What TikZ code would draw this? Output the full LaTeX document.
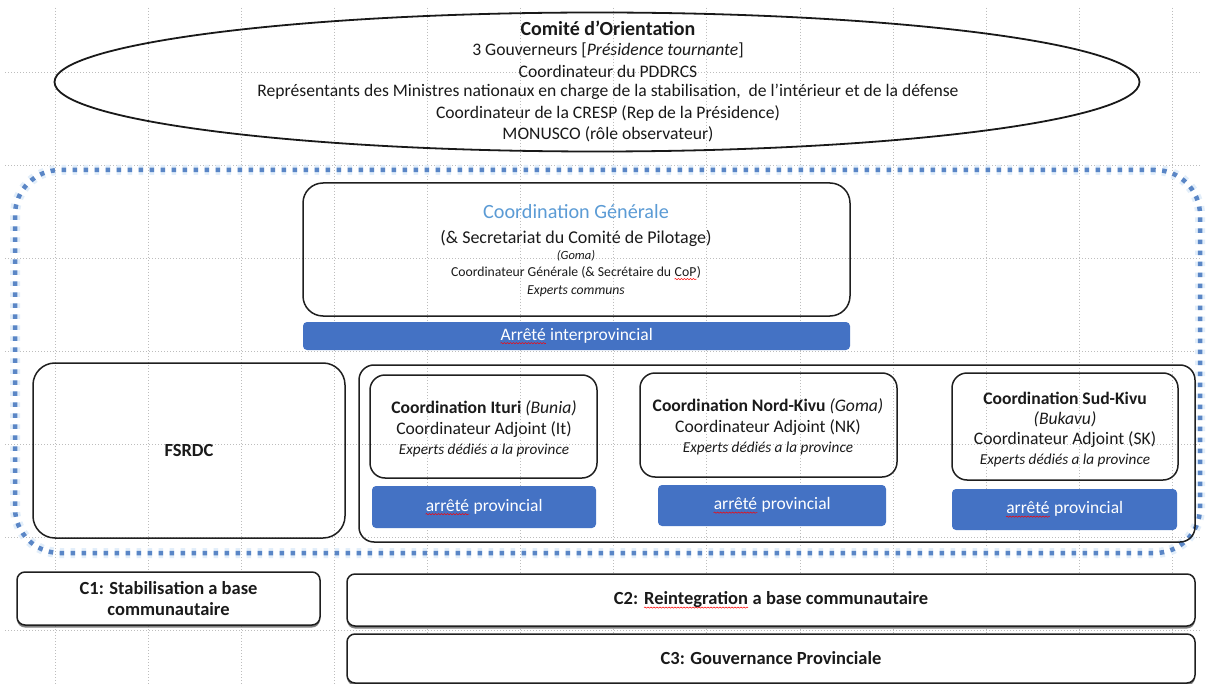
\documentclass[tikz,border=0pt]{standalone}
\usepackage{fontspec}
\setmainfont{Carlito}
\usetikzlibrary{shapes.geometric,fit,shadows,decorations.pathmorphing}
\definecolor{accblue}{HTML}{4472C4}
\definecolor{titleblue}{HTML}{5B9BD5}
\definecolor{dotblue}{HTML}{5A86C6}
\definecolor{glowblue}{HTML}{E2EEFA}
\definecolor{gridgray}{HTML}{BDBDBD}
\definecolor{ink}{HTML}{1A1A1A}
\newcommand\redwave[1]{\tikz[baseline=(rw.base)]{\node[inner sep=0pt] (rw) {#1}; \draw[red, line width=0.5pt, decorate, decoration={snake, amplitude=0.6pt, segment length=3pt}] ([yshift=-3pt]rw.base west) -- ([yshift=-3pt]rw.base east);}}
\newcommand\fsz[2]{\fontsize{#1}{#2}\selectfont}
\tikzset{
  gridline/.style={draw=gridgray, line width=0.6pt, dash pattern=on 1pt off 2pt},
  rbox/.style={draw=black!88, line width=1.5pt, rounded corners=#1, inner sep=0pt},
  rbox/.default=15pt,
  bluebar/.style={fill=accblue, draw=none, rounded corners=4pt, inner sep=0pt},
  shbox/.style={draw=black!88, line width=1.5pt, rounded corners=8pt, inner sep=0pt, fill=white,
     drop shadow={shadow xshift=0pt, shadow yshift=-2.5pt, opacity=0.7, fill=black!70}},
  txt/.style={inner sep=0pt, text=ink, font=\fsz{17.6}{20}},
  btxt/.style={inner sep=0pt, text=ink, font=\fsz{20}{22}\bfseries},
  ptxt/.style={inner sep=0pt, text=ink, font=\fsz{17.6}{20}},
  stxt/.style={inner sep=0pt, text=ink, font=\fsz{15.2}{17}\itshape},
  wtxt/.style={inner sep=0pt, text=white, font=\fsz{17.5}{20}},
}
\begin{document}
\begin{tikzpicture}[x=1pt,y=-1pt]
\useasboundingbox (0,0) rectangle (1206,684);
\fill[white] (0,0) rectangle (1206,684);
% background grid
\foreach \gx in {0,...,12} \draw[gridline] ({55+93.1*\gx},8) -- ({55+93.1*\gx},684);
\foreach \gy in {0,...,6} \draw[gridline] (5,{72+93*\gy}) -- (1200,{72+93*\gy});

% Comite d'Orientation
\node[ellipse, draw=black!90, line width=1.8pt, minimum width=1085pt, minimum height=139pt, inner sep=0pt] (comite) at (597,82) {};
\node[btxt] (co1) at (608,28) {Comité d’Orientation};
\node[txt] (co2) at (608,50) {3 Gouverneurs [\textit{Présidence tournante}]};
\node[txt] (co3) at (608,71) {Coordinateur du PDDRCS};
\node[txt] (co4) at (608,92) {Représentants des Ministres nationaux en charge de la stabilisation,\ \ de l’intérieur et de la défense};
\node[txt] (co5) at (608,113) {Coordinateur de la CRESP (Rep de la Présidence)};
\node[txt] (co6) at (608,134) {MONUSCO (rôle observateur)};

% blue dotted frame
\node[fit={(15,170) (1200,553)}, inner sep=0pt, rounded corners=45pt,
      preaction={draw=glowblue, line width=10pt},
      draw=dotblue, line width=4.5pt, dash pattern=on 4.5pt off 6.5pt] (frame) {};

% Coordination generale
\node[fit={(303,183) (850,316)}, rbox=20pt] (cg) {};
\node[inner sep=0pt, font=\fsz{20.2}{22}, text=titleblue] (cg1) at (576,212) {Coordination Générale};
\node[txt, font=\fsz{18}{20}] (cg2) at (576,238) {(\& Secretariat du Comité de Pilotage)};
\node[stxt, font=\fsz{12.5}{14}\itshape] (cg3) at (576,256) {(Goma)};
\node[txt, font=\fsz{13.7}{15}] (cg4) at (576,273) {Coordinateur Générale (\& Secrétaire du \redwave{CoP})};
\node[stxt, font=\fsz{13.7}{15}\itshape] (cg5) at (576,291) {Experts communs};
\node[fit={(303,322) (850,350)}, bluebar] (cgbar) {};
\node[wtxt] (cgbart) at (cgbar.center) {\redwave{Arrêté} interprovincial};

% FSRDC
\node[fit={(33,363) (345,538)}, rbox=22pt] (fsrdc) {};
\node[btxt, font=\fsz{18.5}{20}\bfseries] (fsrdct) at (fsrdc.center) {FSRDC};

% provinces container
\node[fit={(359,365) (1195,542)}, rbox=15pt] (prov) {};

% Ituri
\node[fit={(370,375) (597,478)}, rbox=15pt] (ituri) {};
\node[ptxt] (it1) at (484,408) {\textbf{Coordination Ituri} \textit{(Bunia)}};
\node[ptxt] (it2) at (484,430) {Coordinateur Adjoint (It)};
\node[stxt] (it3) at (484,450) {Experts dédiés a la province};
\node[fit={(372,486) (596,528)}, bluebar] (itbar) {};
\node[wtxt] (itbart) at (itbar.center) {\redwave{arrêté} provincial};

% Nord-Kivu
\node[fit={(640,373) (897,477)}, rbox=15pt] (nk) {};
\node[ptxt] (nk1) at (768,406) {\textbf{Coordination Nord-Kivu} \textit{(Goma)}};
\node[ptxt] (nk2) at (768,428) {Coordinateur Adjoint (NK)};
\node[stxt] (nk3) at (768,448) {Experts dédiés a la province};
\node[fit={(658,485) (886,526)}, bluebar] (nkbar) {};
\node[wtxt] (nkbart) at (nkbar.center) {\redwave{arrêté} provincial};

% Sud-Kivu
\node[fit={(952,373) (1178,480)}, rbox=15pt] (sk) {};
\node[ptxt, font=\fsz{17.6}{20}\bfseries] (sk1) at (1065,398) {Coordination Sud-Kivu};
\node[ptxt, font=\fsz{17.6}{20}\itshape] (sk2) at (1065,419) {(Bukavu)};
\node[ptxt] (sk3) at (1065,440) {Coordinateur Adjoint (SK)};
\node[stxt] (sk4) at (1065,460) {Experts dédiés a la province};
\node[fit={(952,489) (1177,530)}, bluebar] (skbar) {};
\node[wtxt] (skbart) at (skbar.center) {\redwave{arrêté} provincial};

% components
\node[fit={(17,572) (320,625)}, shbox] (c1) {};
\node[btxt, align=center, font=\fsz{18.5}{21}\bfseries] (c1t) at (c1.center) {C1: Stabilisation a base\\communautaire};
\node[fit={(347,574) (1195,626)}, shbox] (c2) {};
\node[btxt, font=\fsz{18.5}{21}\bfseries] (c2t) at (c2.center) {C2: \redwave{Reintegration} a base communautaire};
\node[fit={(347,634) (1195,683)}, shbox] (c3) {};
\node[btxt, font=\fsz{18.5}{21}\bfseries] (c3t) at (c3.center) {C3: Gouvernance Provinciale};
\end{tikzpicture}
\end{document}
